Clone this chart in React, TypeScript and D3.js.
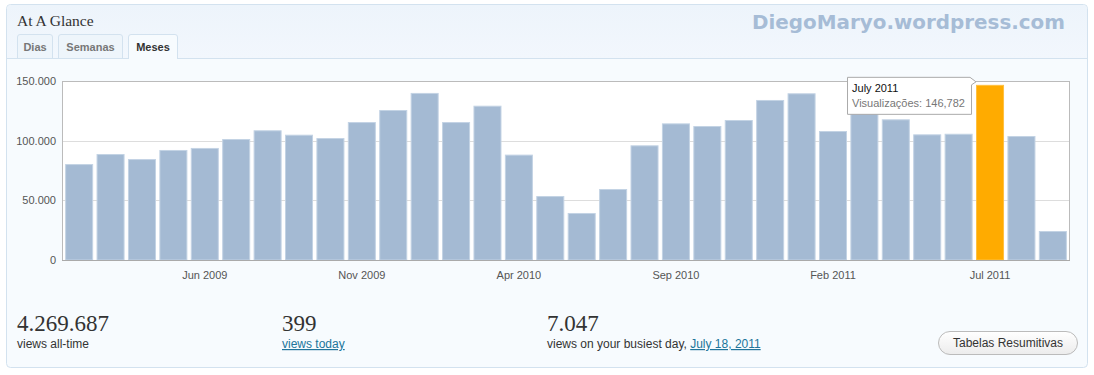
import React, { useEffect } from 'react';
import * as d3 from 'd3';

// monthly views, Feb 2009 .. Sep 2011
const months = [
  'Feb 2009', 'Mar 2009', 'Apr 2009', 'May 2009', 'Jun 2009', 'Jul 2009', 'Aug 2009', 'Sep 2009',
  'Oct 2009', 'Nov 2009', 'Dec 2009', 'Jan 2010', 'Feb 2010', 'Mar 2010', 'Apr 2010', 'May 2010',
  'Jun 2010', 'Jul 2010', 'Aug 2010', 'Sep 2010', 'Oct 2010', 'Nov 2010', 'Dec 2010', 'Jan 2011',
  'Feb 2011', 'Mar 2011', 'Apr 2011', 'May 2011', 'Jun 2011', 'Jul 2011', 'Aug 2011', 'Sep 2011'
];
const views = [
  80400, 88800, 84600, 92200, 93900, 101400, 108700, 105000,
  102200, 115600, 125700, 140000, 115600, 129300, 88300, 53600,
  39400, 59500, 96100, 114500, 112300, 117300, 134100, 139700,
  108100, 127000, 117900, 105300, 105800, 146782, 103900, 24300
];
const xTickLabels = ['Jun 2009', 'Nov 2009', 'Apr 2010', 'Sep 2010', 'Feb 2011', 'Jul 2011'];
const yTicks = [0, 50000, 100000, 150000];
const highlightMonth = 'Jul 2011';
const tooltipTitle = 'July 2011';
const tabs = ['Dias', 'Semanas', 'Meses'];

const stats = [
  { value: '4.269.687', label: 'views all-time', link: '' },
  { value: '399', label: '', link: 'views today' },
  { value: '7.047', label: 'views on your busiest day, ', link: 'July 18, 2011' }
];

const W = 1094;
const H = 375;
const plot = { left: 62, right: 1070, top: 81, bottom: 260 };

const ptBR = d3.formatLocale({ decimal: ',', thousands: '.', grouping: [3], currency: ['', ''] });
const fmtY = ptBR.format(',.0f');
const fmtTip = d3.format(',');

const sans = '"Liberation Sans", Arial, sans-serif';
const serif = '"Liberation Serif", Georgia, serif';

const App = () => {
  useEffect(() => {
    document.body.style.margin = '0';
  }, []);

  const x = d3.scaleBand<string>()
    .domain(months)
    .range([plot.left, plot.right])
    .paddingInner(0.108)
    .paddingOuter(0.1);

  const y = d3.scaleLinear()
    .domain([0, 150000])
    .range([plot.bottom, plot.top]);

  const hiIdx = months.indexOf(highlightMonth);
  const hiX = x(highlightMonth) as number;
  const hiY = y(views[hiIdx]);
  const tipR = hiX - 5;
  const tipL = tipR - 124;
  const tipT = hiY - 8;
  const tipB = tipT + 37;

  const tabX = [17, 58, 128];
  const tabW = [36, 65, 50];
  const statX = [17, 282, 547];

  return (
    <svg width={W} height={H} style={{ display: 'block' }}>
      <defs>
        <linearGradient id="hdr" x1="0" y1="0" x2="0" y2="1">
          <stop offset="0" stopColor="#edf4fb" />
          <stop offset="1" stopColor="#f2f7fd" />
        </linearGradient>
        <linearGradient id="btn" x1="0" y1="0" x2="0" y2="1">
          <stop offset="0" stopColor="#ffffff" />
          <stop offset="1" stopColor="#ececec" />
        </linearGradient>
      </defs>
      <rect width={W} height={H} fill="#ffffff" />

      {/* panel */}
      <rect x={6.5} y={4.5} width={1081} height={363} rx={4} fill="#f7fbfe" stroke="#d3e2ef" />
      <path d="M7,58 V9 Q7,5 11,5 H1083 Q1087,5 1087,9 V58 Z" fill="url(#hdr)" />
      <line x1={7} x2={1087} y1={58.5} y2={58.5} stroke="#d3e2ef" />

      <text x={17} y={26} fontFamily={serif} fontSize={15.5} fill="#333">At A Glance</text>
      <text x={752} y={29} fontFamily='"DejaVu Sans", Verdana, sans-serif' fontWeight="bold" fontSize={19}
        fill="#a6bcd6" textLength={313} lengthAdjust="spacingAndGlyphs">DiegoMaryo.wordpress.com</text>

      {tabs.map((t, i) => {
        const active = i === tabs.length - 1;
        return (
          <g key={t}>
            <path d={`M${tabX[i] + 0.5},${active ? 59 : 58} V${37} Q${tabX[i] + 0.5},34.5 ${tabX[i] + 3},34.5 H${tabX[i] + tabW[i] - 3} Q${tabX[i] + tabW[i] - 0.5},34.5 ${tabX[i] + tabW[i] - 0.5},37 V${active ? 59 : 58}`}
              fill={active ? '#f7fbfe' : '#eef5fb'} stroke="#d3e2ef" />
            <text x={tabX[i] + tabW[i] / 2} y={51} textAnchor="middle" fontFamily={sans} fontWeight="bold"
              fontSize={11} fill={active ? '#333' : '#777'}>{t}</text>
          </g>
        );
      })}

      {/* plot area */}
      <rect x={plot.left} y={plot.top} width={plot.right - plot.left} height={plot.bottom - plot.top} fill="#ffffff" />
      {yTicks.map(t => (
        <g key={t}>
          {t > 0 && t < 150000 && (
            <line x1={plot.left} x2={plot.right} y1={Math.round(y(t)) + 0.5} y2={Math.round(y(t)) + 0.5} stroke="#dddddd" />
          )}
          <text x={56} y={y(t) + 4} textAnchor="end" fontFamily={sans} fontSize={11} fill="#555">{fmtY(t)}</text>
        </g>
      ))}

      {months.map((m, i) => (
        <rect key={m} x={(x(m) as number) + 0.5} y={y(views[i]) + 0.5}
          width={x.bandwidth() - 1} height={plot.bottom - y(views[i]) - 0.5}
          fill={m === highlightMonth ? '#ffab00' : '#a4bad3'}
          stroke={m === highlightMonth ? '#ffc040' : '#c3d3e4'} strokeWidth={1} />
      ))}

      <rect x={plot.left + 0.5} y={plot.top + 0.5} width={plot.right - plot.left - 1} height={plot.bottom - plot.top}
        fill="none" stroke="#bbbbbb" />
      <line x1={plot.left} x2={plot.right} y1={plot.bottom + 0.5} y2={plot.bottom + 0.5} stroke="#aaaaaa" />

      {xTickLabels.map(l => (
        <text key={l} x={(x(l) as number) + x.bandwidth() / 2} y={279} textAnchor="middle"
          fontFamily={sans} fontSize={11} fill="#555">{l}</text>
      ))}

      {/* tooltip */}
      <path d={`M${tipL + 0.5},${tipT + 0.5} H${tipR - 1} L${tipR + 5},${tipT + 5} L${tipR + 0.5},${tipT + 8} V${tipB + 0.5} H${tipL + 0.5} Z`}
        fill="#ffffff" stroke="#aaaaaa" />
      <text x={tipL + 5} y={tipT + 15} fontFamily={sans} fontSize={11} fill="#111">{tooltipTitle}</text>
      <text x={tipL + 5} y={tipT + 30} fontFamily={sans} fontSize={11} fill="#777">
        {'Visualizações: ' + fmtTip(views[hiIdx])}
      </text>

      {/* stats */}
      {stats.map((s, i) => (
        <g key={s.value}>
          <text x={statX[i]} y={331} fontFamily={serif} fontSize={23} fill="#333">{s.value}</text>
          <text x={statX[i]} y={348} fontFamily={sans} fontSize={12} fill="#333">
            {s.label}
            {s.link && <tspan fill="#21759b" textDecoration="underline">{s.link}</tspan>}
          </text>
        </g>
      ))}

      <rect x={938.5} y={331.5} width={139} height={23} rx={11.5} fill="url(#btn)" stroke="#bbbbbb" />
      <text x={1008} y={347} textAnchor="middle" fontFamily={sans} fontSize={12} fill="#333">Tabelas Resumitivas</text>
    </svg>
  );
};

export default App;
